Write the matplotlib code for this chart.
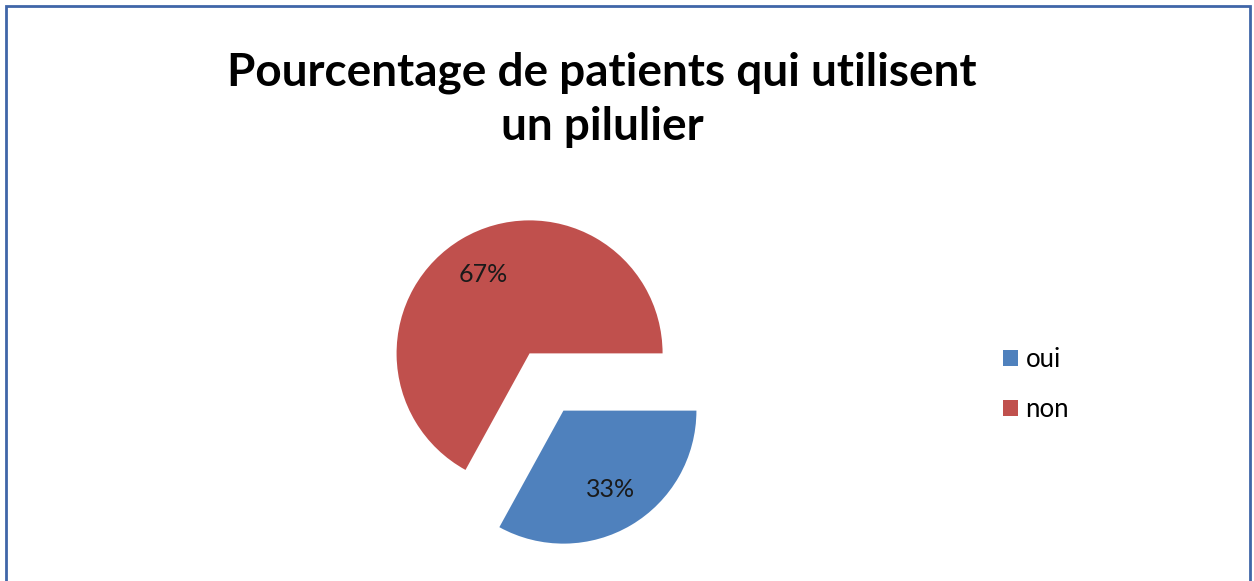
import matplotlib
matplotlib.use("Agg")
import matplotlib.pyplot as plt
from matplotlib.patches import Rectangle

# données
labels = ["oui", "non"]
values = [33, 67]
colors = ["#4F81BD", "#C0504D"]
title_lines = ["Pourcentage de patients qui utilisent", "un pilulier"]

W, H = 1254, 581
R = 133  # rayon en pixels
plt.rcParams["font.family"] = ["Lato", "DejaVu Sans"]

fig = plt.figure(figsize=(W / 100, H / 100), dpi=100)
ax = fig.add_axes([0, 0, 1, 1])

wedges, texts, autotexts = ax.pie(
    values, colors=colors, explode=(0.25 * R, 0.25 * R),
    startangle=0, counterclock=False,
    center=(546.5, H - 382), radius=R,
    autopct="%1.0f%%", pctdistance=0.69,
    textprops=dict(fontsize=18, color="#1a1a1a"),
)
ax.set_xlim(0, W)
ax.set_ylim(0, H)
ax.set_aspect("equal")
ax.axis("off")

# titre
for line, base in zip(title_lines, [85, 140]):
    fig.text(602 / W, 1 - base / H, line, ha="center", va="baseline",
             fontsize=33, fontweight="bold")

# légende
fig.legend(wedges, labels, loc="center left",
           bbox_to_anchor=(1003 / W, 1 - 384.5 / H),
           frameon=False, fontsize=18.5, handlelength=0.58, handleheight=0.58,
           handletextpad=0.3, labelspacing=0.95, borderpad=0, borderaxespad=0)

# cadre
fig.add_artist(Rectangle((6 / W, -0.05), (1250 - 6) / W, 1 - 6 / H + 0.05,
                         transform=fig.transFigure, fill=False,
                         edgecolor="#4066A8", linewidth=2))

fig.savefig("out.png", dpi=100)
